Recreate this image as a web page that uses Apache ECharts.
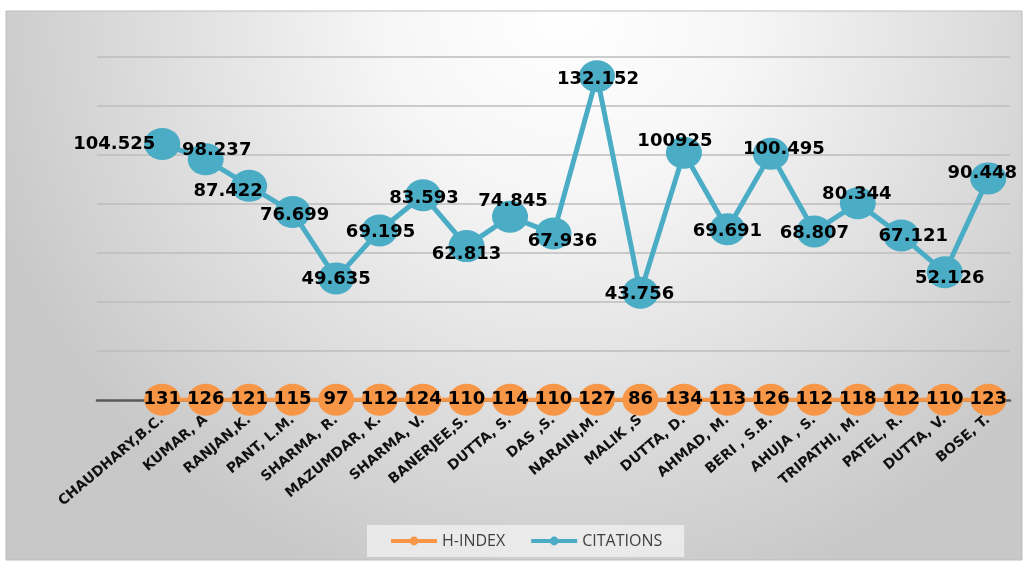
<!DOCTYPE html>
<html>
<head>
<meta charset="utf-8">
<title>H-INDEX / CITATIONS</title>
<script src="https://cdn.jsdelivr.net/npm/echarts@6/dist/echarts.min.js"></script>
<style>
  html, body { margin: 0; padding: 0; background: #fff; }
  #chart { width: 1027px; height: 562px; }
</style>
</head>
<body>
<div id="chart"></div>
<script>
// ── 資料（第一格為空類別，圖上留白）──────────────────────────────
var authors = ["", "CHAUDHARY,B.C.", "KUMAR, A", "RANJAN,K.", "PANT, L.M.", "SHARMA, R.",
  "MAZUMDAR, K.", "SHARMA, V.", "BANERJEE,S.", "DUTTA, S.", "DAS ,S.", "NARAIN,M.",
  "MALIK ,S", "DUTTA, D.", "AHMAD, M.", "BERI , S.B.", "AHUJA , S.", "TRIPATHI, M.",
  "PATEL, R.", "DUTTA, V.", "BOSE, T."];
var hIndex = [null, 131, 126, 121, 115, 97, 112, 124, 110, 114, 110, 127, 86, 134, 113, 126, 112, 118, 112, 110, 123];
var citations = [null, 104525, 98237, 87422, 76699, 49635, 69195, 83593, 62813, 74845, 67936,
  132152, 43756, 100925, 69691, 100495, 68807, 80344, 67121, 52126, 90448];
var citationLabels = ["", "104.525", "98.237", "87.422", "76.699", "49.635", "69.195", "83.593", "62.813",
  "74.845", "67.936", "132.152", "43.756", "100925", "69.691", "100.495", "68.807", "80.344",
  "67.121", "52.126", "90.448"];
var yTicks = { min: 0, max: 140000, step: 20000 };

(function () {
  "use strict";

  var ORANGE = "#F79646", CYAN = "#4BACC6";
  var LABEL_FONT = { fontFamily: "DejaVu Sans", fontWeight: "bold", fontSize: 18, color: "#000" };

  // 引用數標籤的位置微調（與原圖對齊用）
  var labelOffsets = [[0, 0], [-48, 0], [11, -9], [-21, 6], [2, 3], [0, 1], [1, 2], [1, 3], [0, 8],
    [3, -15], [9, 8], [1, 3], [-1, 2], [-9, -11], [0, 2], [13, -4], [0, 2], [-1, -9], [12, 1], [5, 6], [-6, -5]];

  var citeData = citations.map(function (v, i) {
    return { value: v, label: { offset: labelOffsets[i], formatter: citationLabels[i] } };
  });

  var chart = echarts.init(document.getElementById("chart"), null, { renderer: "canvas" });
  chart.setOption({
    animation: false,
    graphic: [{
      type: "rect", z: -10, silent: true,
      shape: { x: 6, y: 11, width: 1016, height: 549 },
      style: {
        fill: new echarts.graphic.RadialGradient(0.55, 0.0, 1.1, [
          { offset: 0, color: "#ffffff" },
          { offset: 0.3, color: "#f6f6f6" },
          { offset: 1, color: "#c8c8c8" }
        ]),
        stroke: "#bdbdbd", lineWidth: 1
      }
    }],
    grid: { left: 97, right: 17, top: 57, bottom: 162 },
    legend: {
      bottom: 5, left: 367,
      data: ["H-INDEX", "CITATIONS"],
      itemWidth: 46, itemHeight: 11, itemGap: 24,
      lineStyle: { width: 4 },
      backgroundColor: "rgba(236,236,236,0.9)",
      padding: [8, 22],
      textStyle: { color: "#404040", fontSize: 16, fontFamily: "Open Sans" }
    },
    xAxis: {
      type: "category", data: authors, boundaryGap: true,
      axisLine: { lineStyle: { color: "#595959", width: 2.5 } },
      axisTick: { show: false },
      axisLabel: {
        interval: 0, rotate: 40, margin: 18,
        fontFamily: "DejaVu Sans", fontWeight: "bold", fontSize: 14, color: "#111"
      }
    },
    yAxis: {
      type: "value", min: yTicks.min, max: yTicks.max, interval: yTicks.step,
      axisLabel: { show: false }, axisLine: { show: false }, axisTick: { show: false },
      splitLine: { lineStyle: { color: "#bcbcbc", width: 1.5 } }
    },
    series: [{
      name: "H-INDEX", type: "line", data: hIndex,
      symbol: "circle", symbolSize: [36, 32],
      lineStyle: { color: ORANGE, width: 4 }, itemStyle: { color: ORANGE },
      label: Object.assign({ show: true, position: "inside" }, LABEL_FONT),
      z: 3
    }, {
      name: "CITATIONS", type: "line", data: citeData,
      symbol: "circle", symbolSize: [36, 32],
      lineStyle: { color: CYAN, width: 5 }, itemStyle: { color: CYAN },
      label: Object.assign({ show: true, position: "inside" }, LABEL_FONT),
      z: 4
    }]
  });
})();
</script>
</body>
</html>
